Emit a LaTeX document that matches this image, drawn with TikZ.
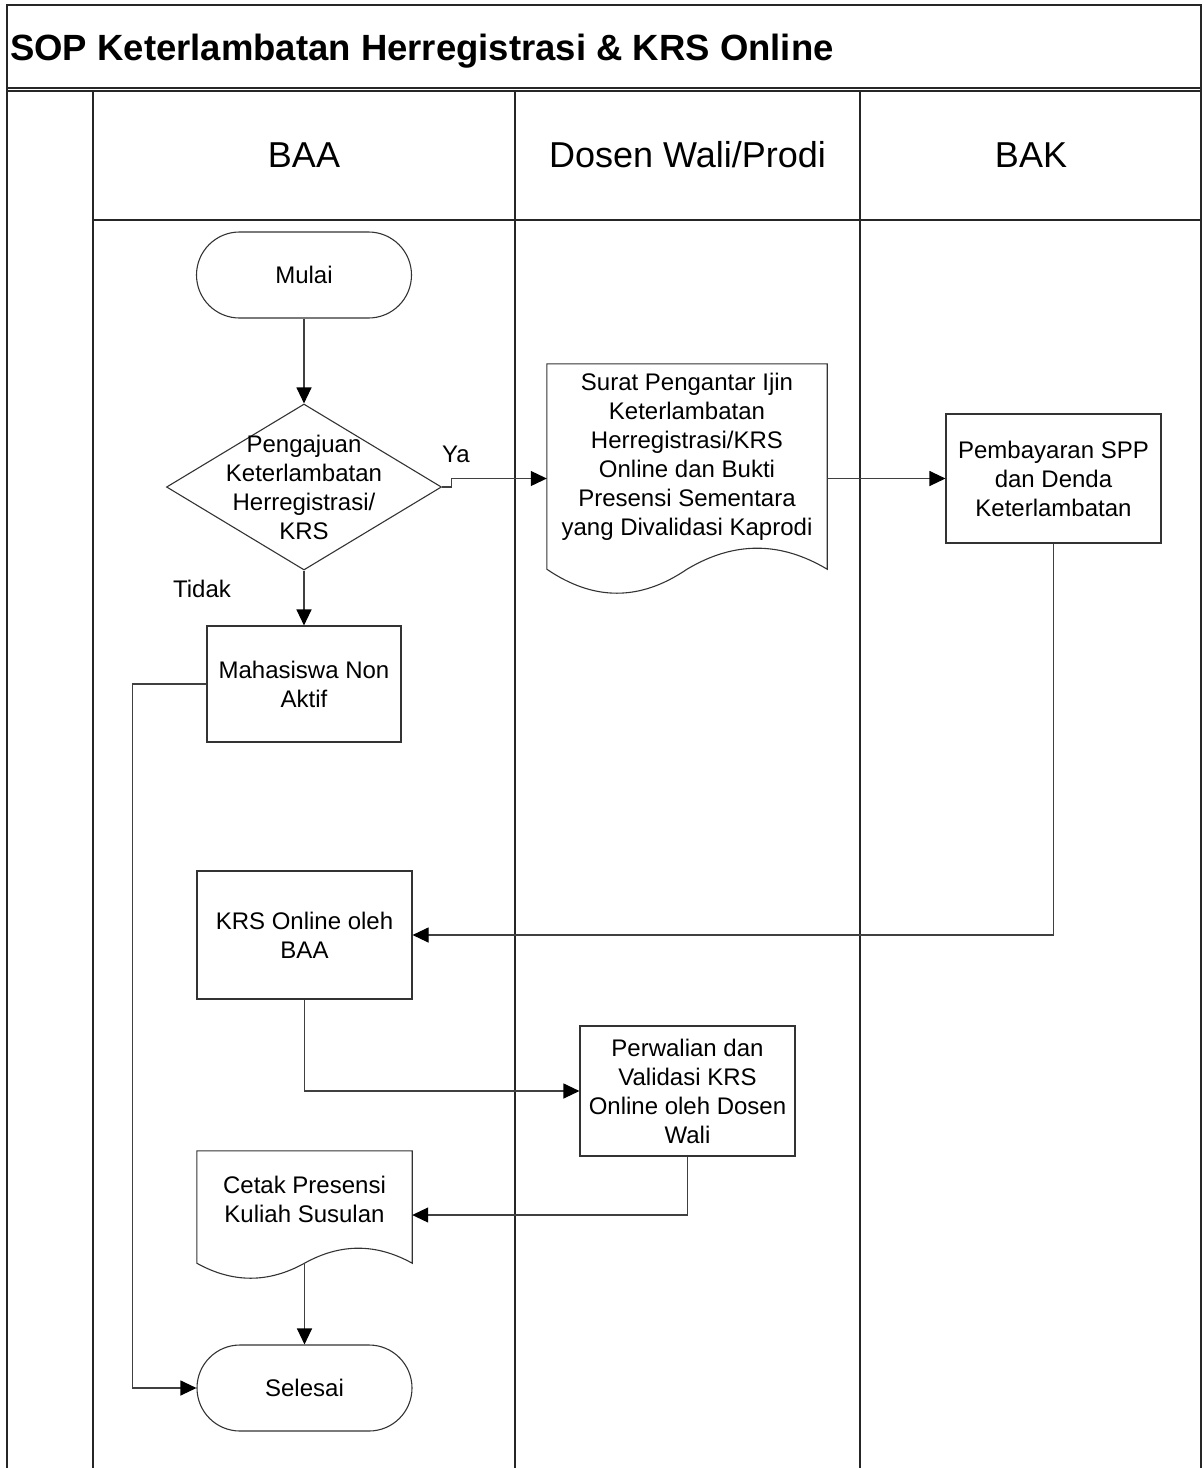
\documentclass[tikz,border=0pt]{standalone}
\usepackage{fontspec}
\setmainfont{Liberation Sans}
\usetikzlibrary{arrows.meta,shapes.geometric,calc}
\begin{document}
\begin{tikzpicture}[x=1pt,y=-1pt,
  frame/.style={line width=1.4pt,draw=black!85},
  lane/.style={line width=1.2pt,draw=black!85},
  shapeline/.style={line width=1.1pt,draw=black!80},
  conn/.style={line width=1.1pt,draw=black!75,-{Triangle[length=16pt,width=15pt,color=black,fill=black]}},
  txt/.style={font=\fontsize{24}{29}\selectfont,align=center,inner sep=0pt},
  lanetitle/.style={font=\fontsize{36}{40}\selectfont,inner sep=0pt},
  term/.style={shapeline,draw,rectangle,rounded corners=43pt,minimum width=215pt,minimum height=86pt,txt},
  procbox/.style={shapeline,draw,rectangle,txt},
  outline/.style={rectangle,inner sep=0pt,draw=none}
]
\useasboundingbox (0,0) rectangle (1204,1468);
% frame and lanes
\draw[frame] (7,1468) -- (7,5) -- (1201,5) -- (1201,1468);
\draw[lane] (7,88) -- (1201,88);
\draw[lane] (7,91) -- (1201,91);
\draw[lane] (93,91) -- (93,1468);
\draw[lane] (515,91) -- (515,1468);
\draw[lane] (860,91) -- (860,1468);
\draw[lane] (93,220) -- (1201,220);
\node[anchor=base west,font=\bfseries\fontsize{36.5}{40}\selectfont,inner sep=0pt] (title) at (10,60) {SOP Keterlambatan Herregistrasi \& KRS Online};
\node[lanetitle] (hbaa) at (304,155) {BAA};
\node[lanetitle] (hdos) at (687.5,155) {Dosen Wali/Prodi};
\node[lanetitle] (hbak) at (1031,155) {BAK};

% nodes
\node[term] (mulai) at (304,275) {Mulai};
\node[shapeline,draw,diamond,minimum width=275pt,minimum height=166pt,inner sep=0pt] (dec) at (304,487) {};
\node[txt] (dect) at (304,487) {Pengajuan\\Keterlambatan\\Herregistrasi/\\KRS};
\node[outline,minimum width=280pt,minimum height=205pt] (doc1) at (687,466.5) {};
\node[txt] (doc1t) at (687,457) {Surat Pengantar Ijin\\Keterlambatan\\Herregistrasi/KRS\\Online dan Bukti\\Presensi Sementara\\yang Divalidasi Kaprodi};
\node[procbox,minimum width=215pt,minimum height=129pt] (pemb) at (1053.5,478.5) {Pembayaran SPP\\dan Denda\\Keterlambatan};
\node[procbox,minimum width=194pt,minimum height=116pt] (mna) at (304,684) {Mahasiswa Non\\Aktif};
\node[procbox,minimum width=215pt,minimum height=128pt] (krs) at (304.5,935) {KRS Online oleh\\BAA};
\node[procbox,minimum width=215pt,minimum height=130pt] (perw) at (687.5,1091) {Perwalian dan\\Validasi KRS\\Online oleh Dosen\\Wali};
\node[outline,minimum width=215pt,minimum height=112pt] (cetak) at (304.5,1207) {};
\node[txt] (cetakt) at (304.5,1199) {Cetak Presensi\\Kuliah Susulan};
\node[term] (sel) at (304.5,1388) {Selesai};

% document outlines
\draw[shapeline] (doc1.south west) -- (doc1.north west) -- (doc1.north east) -- (doc1.south east)
  .. controls +(-47,-28) and +(47,-28) .. (doc1.south)
  .. controls +(-47,32) and +(47,32) .. (doc1.south west) -- cycle;
\draw[shapeline] (cetak.south west) -- (cetak.north west) -- (cetak.north east) -- (cetak.south east)
  .. controls +(-36,-20) and +(36,-20) .. (cetak.south)
  .. controls +(-36,20) and +(36,20) .. (cetak.south west) -- cycle;

% labels
\node[txt] (ya) at (456,454) {Ya};
\node[txt] (tidak) at (202,589) {Tidak};

% connectors
\draw[conn] (mulai.south) -- (dec.north);
\draw[conn] (dec.east) -- ++(9,0) |- (doc1.west |- pemb.west);
\draw[conn] (doc1.east |- pemb.west) -- (pemb.west);
\draw[conn] (dec.south) -- (mna.north);
\draw[conn] (pemb.south) |- (krs.east);
\draw[conn] (krs.south) |- (perw.west);
\draw[conn] (perw.south) |- ($(cetak.east)+(0,8)$);
\draw[conn] (cetak.south) -- (sel.north);
\draw[conn] (mna.west) -- ++(-74,0) |- (sel.west);
\end{tikzpicture}
\end{document}
